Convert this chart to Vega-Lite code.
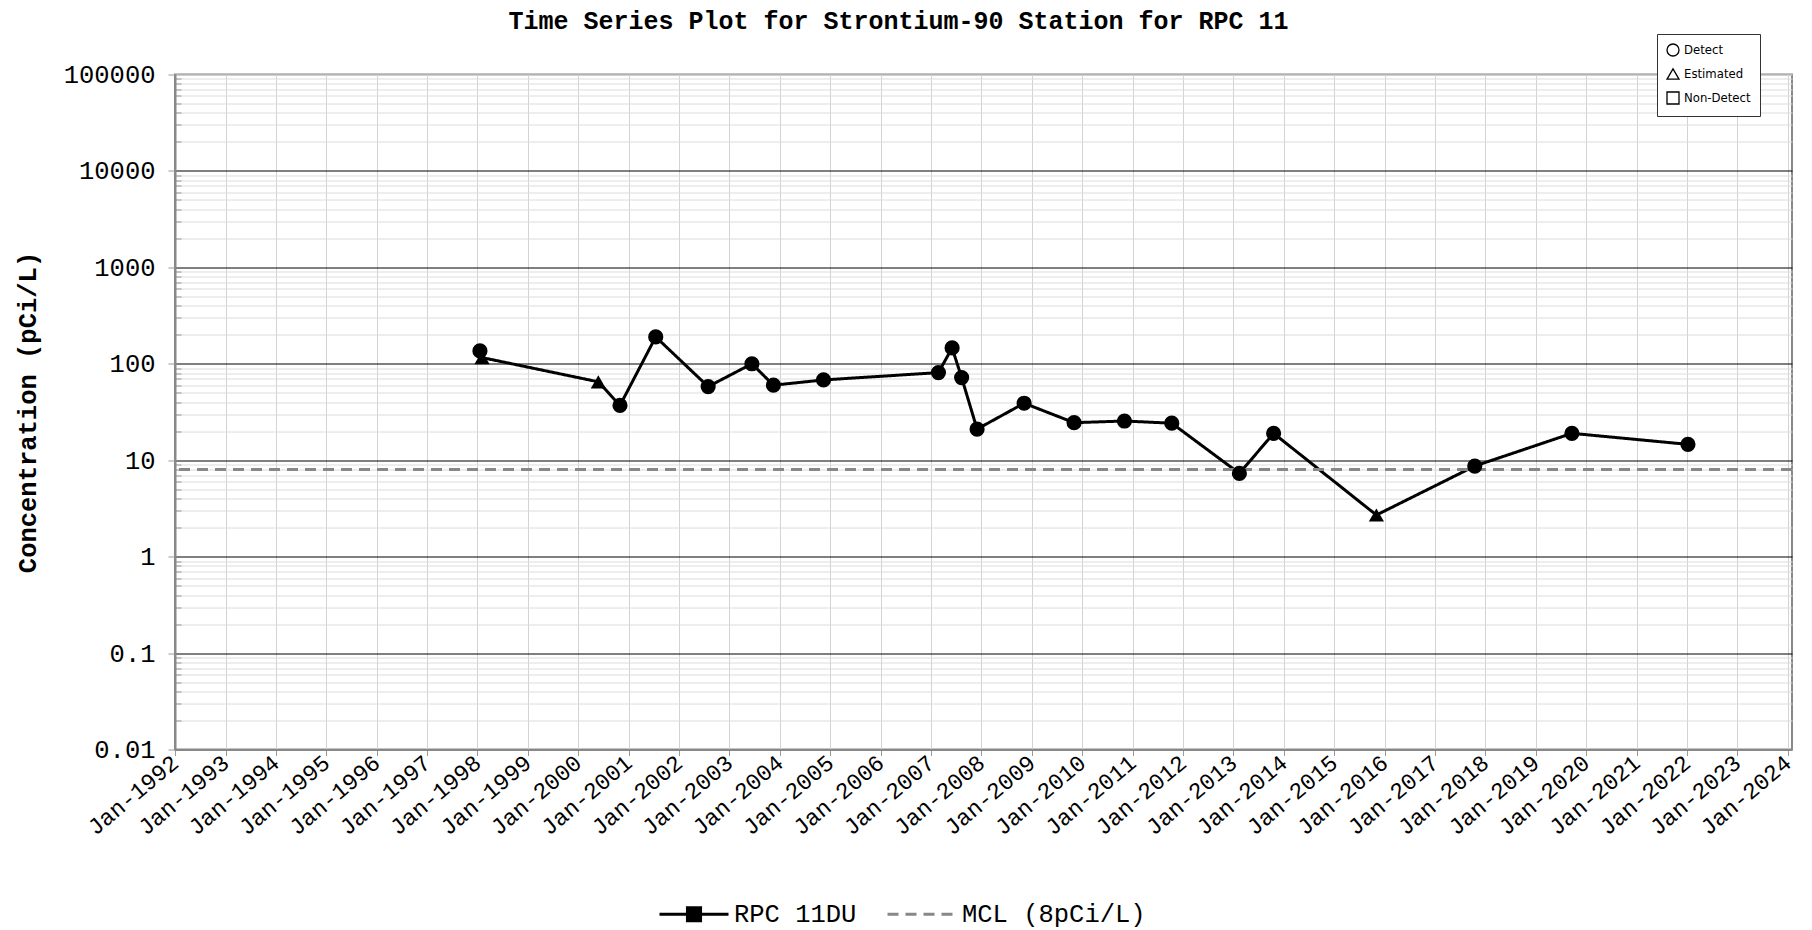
{
  "$schema": "https://vega.github.io/schema/vega-lite/v6.json",
  "width": 1617,
  "height": 675,
  "autosize": "none",
  "padding": {"left": 175, "top": 74.5, "right": 20, "bottom": 180.5},
  "background": "white",
  "title": {
    "text": "Time Series Plot for Strontium-90 Station for RPC 11",
    "font": "Liberation Mono",
    "fontSize": 25,
    "fontWeight": "bold",
    "color": "black",
    "anchor": "middle",
    "frame": "group",
    "baseline": "middle",
    "dx": -85,
    "dy": 25,
    "offset": 13
  },
  "config": {
    "view": {"stroke": "#888888", "strokeWidth": 2},
    "axis": {"labelColor": "black", "titleColor": "black"}
  },
  "datasets": {
    "samples": [
      {"date": "1998-01-19", "value": 136, "flag": "Detect", "series": "RPC 11DU"},
      {"date": "1998-02-03", "value": 116, "flag": "Estimated", "series": "RPC 11DU"},
      {"date": "2000-05-26", "value": 65, "flag": "Estimated", "series": "RPC 11DU"},
      {"date": "2000-10-30", "value": 37, "flag": "Detect", "series": "RPC 11DU"},
      {"date": "2001-07-16", "value": 190, "flag": "Detect", "series": "RPC 11DU"},
      {"date": "2002-07-31", "value": 58, "flag": "Detect", "series": "RPC 11DU"},
      {"date": "2003-06-13", "value": 100, "flag": "Detect", "series": "RPC 11DU"},
      {"date": "2003-11-16", "value": 60, "flag": "Detect", "series": "RPC 11DU"},
      {"date": "2004-11-13", "value": 68, "flag": "Detect", "series": "RPC 11DU"},
      {"date": "2007-02-24", "value": 81, "flag": "Detect", "series": "RPC 11DU"},
      {"date": "2007-06-03", "value": 146, "flag": "Detect", "series": "RPC 11DU"},
      {"date": "2007-08-11", "value": 72, "flag": "Detect", "series": "RPC 11DU"},
      {"date": "2007-12-01", "value": 21, "flag": "Detect", "series": "RPC 11DU"},
      {"date": "2008-11-06", "value": 39, "flag": "Detect", "series": "RPC 11DU"},
      {"date": "2009-11-03", "value": 24.5, "flag": "Detect", "series": "RPC 11DU"},
      {"date": "2010-11-03", "value": 25.5, "flag": "Detect", "series": "RPC 11DU"},
      {"date": "2011-10-12", "value": 24.2, "flag": "Detect", "series": "RPC 11DU"},
      {"date": "2013-02-13", "value": 7.3, "flag": "Detect", "series": "RPC 11DU"},
      {"date": "2013-10-19", "value": 19, "flag": "Detect", "series": "RPC 11DU"},
      {"date": "2015-11-03", "value": 2.7, "flag": "Estimated", "series": "RPC 11DU"},
      {"date": "2017-10-16", "value": 8.7, "flag": "Detect", "series": "RPC 11DU"},
      {"date": "2019-09-20", "value": 19, "flag": "Detect", "series": "RPC 11DU"},
      {"date": "2022-01-08", "value": 14.6, "flag": "Detect", "series": "RPC 11DU"}
    ],
    "mcl": [
      {"series": "MCL (8pCi/L)", "value": 8}
    ]
  },
  "layer": [
    {
      "data": {"name": "samples"},
      "mark": {"type": "line", "strokeWidth": 3},
      "encoding": {
        "x": {
          "field": "date",
          "type": "temporal",
          "scale": {"domain": [{"year": 1992, "month": 1, "date": 1}, {"year": 2024, "month": 2, "date": 1}]},
          "axis": {
            "title": null,
            "format": "%b-%Y",
            "tickCount": {"interval": "year", "step": 1},
            "labelAngle": -40,
            "labelAlign": "right",
            "labelBaseline": "middle",
            "labelFont": "Liberation Mono",
            "labelFontSize": 23,
            "labelPadding": 4,
            "labelOverlap": false,
            "labelFlush": false,
            "labelBound": false,
            "tickSize": 6,
            "tickColor": "#999999",
            "grid": true,
            "gridColor": "#d3d3d3",
            "gridWidth": 1,
            "domainColor": "#888888",
            "domainWidth": 2
          }
        },
        "y": {
          "field": "value",
          "type": "quantitative",
          "scale": {"type": "log", "domain": [0.01, 100000], "nice": false},
          "axis": {
            "title": "Concentration (pCi/L)",
            "titleFont": "Liberation Mono",
            "titleFontSize": 25.5,
            "titleFontWeight": "bold",
            "titleAngle": -90,
            "titleX": -148,
            "titleY": 337.5,
            "titleAlign": "center",
            "titleBaseline": "middle",
            "values": [0.01,0.02,0.03,0.04,0.05,0.06,0.07,0.08,0.09,0.1,0.2,0.3,0.4,0.5,0.6,0.7,0.8,0.9,1,2,3,4,5,6,7,8,9,10,20,30,40,50,60,70,80,90,100,200,300,400,500,600,700,800,900,1000,2000,3000,4000,5000,6000,7000,8000,9000,10000,20000,30000,40000,50000,60000,70000,80000,90000,100000],
            "labelExpr": "abs(log(datum.value)/LN10 - round(log(datum.value)/LN10)) < 0.000001 ? format(datum.value, '~g') : ''",
            "labelFont": "Liberation Mono",
            "labelFontSize": 25.5,
            "labelPadding": 13,
            "labelOverlap": false,
            "labelBound": false,
            "labelFlush": false,
            "tickSize": {"condition": {"test": "abs(log(datum.value)/LN10 - round(log(datum.value)/LN10)) < 0.000001", "value": 7}, "value": -6},
            "tickColor": "#999999",
            "grid": true,
            "gridWidth": 1,
            "gridColor": {"condition": {"test": "abs(log(datum.value)/LN10 - round(log(datum.value)/LN10)) < 0.000001 && datum.value > 0.05 && datum.value < 50000", "value": "black"}, "value": "#dcdcdc"},
            "domainColor": "#888888",
            "domainWidth": 2
          }
        },
        "color": {
          "field": "series",
          "type": "nominal",
          "scale": {"domain": ["RPC 11DU", "MCL (8pCi/L)"], "range": ["black", "#888888"]},
          "legend": {
            "title": null,
            "orient": "none",
            "direction": "horizontal",
            "legendX": 483,
            "legendY": 803.5,
            "labelFont": "Liberation Mono",
            "labelFontSize": 25.5,
            "labelColor": "black",
            "labelLimit": 600,
            "labelOffset": 4,
            "columnPadding": 24,
            "symbolSize": 4761,
            "symbolStrokeWidth": 3,
            "encode": {
              "symbols": {
                "update": {
                  "shape": {"signal": "datum.value === 'RPC 11DU' ? 'M-1,0H1M-0.19,-0.19H0.19V0.19H-0.19Z' : 'M-1,0H1'"},
                  "fill": {"signal": "datum.value === 'RPC 11DU' ? 'black' : 'transparent'"}
                }
              }
            }
          }
        },
        "strokeDash": {
          "field": "series",
          "type": "nominal",
          "scale": {"domain": ["RPC 11DU", "MCL (8pCi/L)"], "range": [[1, 0], [11, 7]]},
          "legend": null
        }
      }
    },
    {
      "data": {"name": "mcl"},
      "mark": {"type": "rule", "strokeWidth": 3},
      "encoding": {
        "y": {"field": "value", "type": "quantitative"},
        "color": {"field": "series", "type": "nominal"},
        "strokeDash": {"field": "series", "type": "nominal"}
      }
    },
    {
      "data": {"name": "samples"},
      "mark": {"type": "point", "filled": true, "opacity": 1, "size": 230},
      "encoding": {
        "x": {"field": "date", "type": "temporal"},
        "y": {"field": "value", "type": "quantitative"},
        "color": {"field": "series", "type": "nominal"},
        "shape": {
          "field": "flag",
          "type": "nominal",
          "scale": {"domain": ["Detect", "Estimated", "Non-Detect"], "range": ["circle", "triangle-up", "square"]},
          "legend": {
            "title": null,
            "orient": "none",
            "legendX": 1482,
            "legendY": -40.5,
            "padding": 9,
            "fillColor": "white",
            "strokeColor": "#333333",
            "labelFont": "DejaVu Sans Condensed, Liberation Sans Narrow, sans-serif",
            "labelFontSize": 13,
            "labelColor": "black",
            "labelOffset": 4,
            "rowPadding": 7,
            "symbolSize": 144,
            "symbolStrokeWidth": 1.3,
            "symbolFillColor": "transparent",
            "symbolStrokeColor": "black",
            "encode": {
              "legend": {"update": {"strokeWidth": {"value": 2}}},
              "symbols": {"update": {"fill": {"value": "transparent"}, "stroke": {"value": "black"}}}
            }
          }
        }
      }
    }
  ]
}
